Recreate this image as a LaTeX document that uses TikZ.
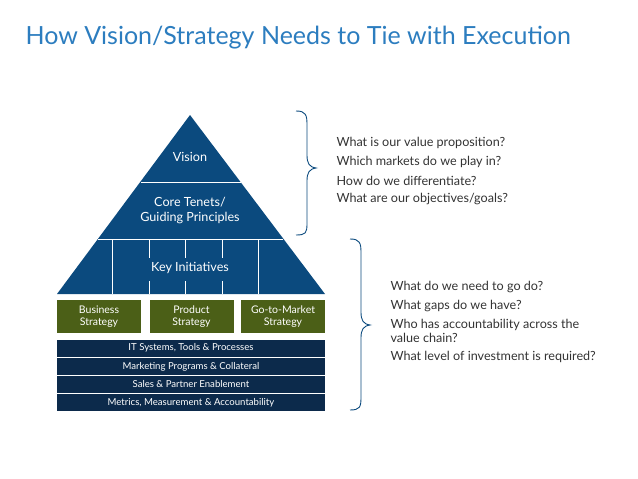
\documentclass[tikz,border=0pt]{standalone}
\usepackage{fontspec}
\setmainfont{Lato}
\definecolor{pblue}{HTML}{0B4A7E}
\definecolor{pgreen}{HTML}{4B5F17}
\definecolor{pnavy}{HTML}{0C2A4B}
\definecolor{ttl}{HTML}{2C7DBF}
\definecolor{txt}{HTML}{333333}
\begin{document}
\begin{tikzpicture}[x=1pt,y=-1pt,
  gbox/.style={fill=pgreen,draw=none,text=white,font=\fontsize{10.5}{11.5}\selectfont,align=center},
  bar/.style={fill=pnavy,draw=none,text=white,font=\fontsize{9.6}{11}\selectfont},
  ptxt/.style={text=white,font=\fontsize{12.6}{15}\selectfont,align=center},
  qtxt/.style={text=txt,font=\fontsize{12.6}{14}\selectfont,anchor=west,align=left},
  brace/.style={draw=pblue,line width=0.9pt}]
\useasboundingbox (0,0) rectangle (638,479);
\node[anchor=west,text=ttl,font=\fontsize{25}{28}\selectfont] (title) at (22,38) {How Vision/Strategy Needs to Tie with Execution};
% pyramid
\fill[pblue] (190,115) -- (325,294) -- (57,294) -- cycle;
\draw[white,line width=1pt] (141,182) -- (241,182);
\draw[white,line width=1pt] (98,239) -- (283,239);
\foreach \x in {112,258} \draw[white,line width=0.8pt] (\x,239) -- (\x,294);
\foreach \x in {149,185,222} {\draw[white,line width=0.8pt] (\x,239) -- (\x,258); \draw[white,line width=0.8pt] (\x,281) -- (\x,294);}
\node[ptxt] (vision) at (190,157) {Vision};
\node[ptxt] (core) at (190,211) {Core Tenets/\\Guiding Principles};
\node[ptxt] (ki) at (190,268) {Key Initiatives};
% green boxes
\node[gbox,minimum width=84pt,minimum height=33pt] (bs) at (99,316.5) {Business\\Strategy};
\node[gbox,minimum width=84pt,minimum height=33pt] (ps) at (191.5,316.5) {Product\\Strategy};
\node[gbox,minimum width=84pt,minimum height=33pt] (gs) at (283,316.5) {Go-to-Market\\Strategy};
% bars
\node[bar,minimum width=268pt,minimum height=17pt] (b1) at (191,348) {IT Systems, Tools \& Processes};
\node[bar,minimum width=268pt,minimum height=17pt] (b2) at (191,366.5) {Marketing Programs \& Collateral};
\node[bar,minimum width=268pt,minimum height=17pt] (b3) at (191,384.5) {Sales \& Partner Enablement};
\node[bar,minimum width=268pt,minimum height=17pt] (b4) at (191,402.5) {Metrics, Measurement \& Accountability};
% braces
\draw[brace] (296,111) .. controls (306,111) and (307,115) .. (307,125) -- (307,155)
  .. controls (307,163) and (309,167) .. (316,168)
  .. controls (309,169) and (307,173) .. (307,181) -- (307,223)
  .. controls (307,233) and (306,235) .. (296,235);
\draw[brace] (350,239) .. controls (360,239) and (361,243) .. (361,253) -- (361,312)
  .. controls (361,320) and (363,324) .. (370,325)
  .. controls (363,326) and (361,330) .. (361,338) -- (361,397)
  .. controls (361,407) and (360,410) .. (350,410);
% questions
\node[qtxt] (q1) at (333,143) {What is our value proposition?};
\node[qtxt] (q2) at (333,162) {Which markets do we play in?};
\node[qtxt] (q3) at (333,181) {How do we differentiate?};
\node[qtxt] (q4) at (333,199) {What are our objectives/goals?};
\node[qtxt] (r1) at (387,287) {What do we need to go do?};
\node[qtxt] (r2) at (387,306) {What gaps do we have?};
\node[qtxt] (r3) at (387,331) {Who has accountability across the\\value chain?};
\node[qtxt] (r4) at (387,357) {What level of investment is required?};
\end{tikzpicture}
\end{document}
